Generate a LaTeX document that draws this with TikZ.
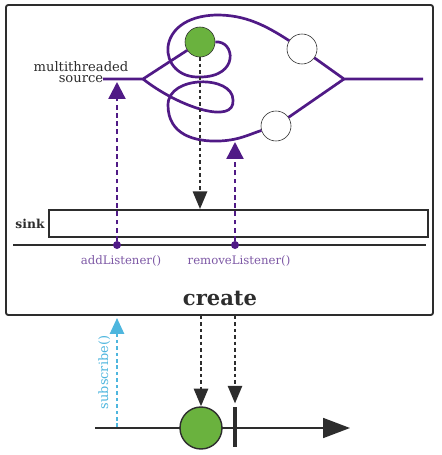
\documentclass[tikz,border=0pt]{standalone}
\usepackage{fontspec}
\setmainfont{DejaVu Serif}
\usetikzlibrary{arrows.meta}
\definecolor{rxpurple}{RGB}{80,26,134}
\definecolor{rxlabel}{RGB}{125,88,165}
\definecolor{rxcyan}{RGB}{78,182,222}
\definecolor{rxgreen}{RGB}{106,178,62}
\definecolor{rxdark}{RGB}{45,45,45}
\begin{document}
\begin{tikzpicture}[x=0.03cm,y=-0.03cm,every node/.style={text=rxdark},
    stream/.style={rxpurple,line width=2.3pt},
    marble/.style={circle,draw=rxdark,line width=0.5pt,inner sep=0pt,minimum size=0.9cm},
    upcall/.style={rxpurple,line width=2pt,dash pattern=on 4pt off 3pt,-{Triangle[width=14.5pt,length=14.5pt]}},
    downcall/.style={rxdark,line width=2pt,dash pattern=on 3pt off 2.5pt,-{Triangle[width=12pt,length=15pt]}},
    listener/.style={text=rxlabel,font=\fontsize{10}{12}\selectfont},
    ]
        % the multithreaded source
        \useasboundingbox (0,0) rectangle (441,455);
        \node[draw=rxdark,line width=1.6pt,rounded corners=2pt,minimum width=12.81cm,minimum height=9.3cm] (createbox) at (219.5,160) {};
        \node[marble,fill=rxgreen] (g1) at (200,42) {};
        \node[marble,fill=white] (w1) at (302,49) {};
        \node[marble,fill=white] (w2) at (276,126) {};
        \coordinate (in) at (103,79);
        \coordinate (split) at (143,79);
        \coordinate (join) at (344,79);
        \coordinate (out) at (423,79);
        \node[align=center,font=\fontsize{11.2}{9.8}\selectfont] (srclabel) at (81,72) {multithreaded\\source};
        \draw[stream] (in) -- (split) -- (g1);
        \draw[stream] (g1.east) .. controls (235,40) and (240,77) .. (200,77) .. controls (157,79) and (152,16) .. (217,15) .. controls (245,15) and (265,25) .. (w1);
        \draw[stream] (w1) -- (join) -- (out);
        \draw[stream] (split) .. controls (180,108) and (235,125) .. (233,100) .. controls (233,75) and (168,75) .. (168,105) .. controls (168,135) and (195,142) .. (220,141) .. controls (240,140) and (250,134) .. (w2);
        \draw[stream] (w2) -- (join);
        %
        % the sink
        \node[draw=rxdark,line width=1.6pt,inner sep=0pt,minimum width=11.37cm,minimum height=0.81cm] (sink) at (238.5,223.5) {};
        \node[font=\bfseries\fontsize{10.5}{12}\selectfont] (sinklabel) at (30,224) {sink};
        \coordinate (railL) at (13,245);
        \coordinate (railR) at (426,245);
        \draw[rxdark,line width=1.6pt] (railL) -- (railR);
        \node[circle,fill=rxpurple,inner sep=0pt,minimum size=0.24cm] (add) at (117,245) {};
        \node[circle,fill=rxpurple,inner sep=0pt,minimum size=0.24cm] (remove) at (235,245) {};
        \node[listener] (addlabel) at (121,261) {addListener()};
        \node[listener] (removelabel) at (239,261) {removeListener()};
        \coordinate (addtip) at (117,82);
        \coordinate (removetip) at (235,142);
        \draw[upcall] (add) -- (addtip);
        \draw[upcall] (remove) -- (removetip);
        \draw[downcall] (g1) -- (g1 |- sink.north);
        \node[font=\bfseries\fontsize{18}{20}\selectfont] (createlabel) at (220,298) {create};
        %
        % the resulting stream
        \coordinate (t0) at (95,428);
        \coordinate (t1) at (350,428);
        \draw[rxdark,line width=1.7pt,-{Triangle[width=17pt,length=23pt]}] (t0) -- (t1);
        \node[marble,fill=rxgreen,line width=1.2pt,minimum size=1.26cm] (g2) at (201,428) {};
        \coordinate (barTop) at (235,407);
        \coordinate (barBot) at (235,447);
        \draw[rxdark,line width=2.6pt] (barTop) -- (barBot);
        \draw[downcall] (g2 |- createbox.south) -- (g2);
        \draw[downcall] (barTop |- createbox.south) -- ([yshift=3pt]barTop);
        \coordinate (subBot) at (117,427);
        \coordinate (subTop) at (117,318);
        \draw[rxcyan,line width=1.8pt,dash pattern=on 3pt off 2.5pt,-{Triangle[width=12pt,length=13.5pt]}] (subBot) -- (subTop) node[midway,rotate=90,text=rxcyan,font=\fontsize{11}{13}\selectfont,yshift=11pt] (sublabel) {subscribe()};
\end{tikzpicture}
\end{document}
